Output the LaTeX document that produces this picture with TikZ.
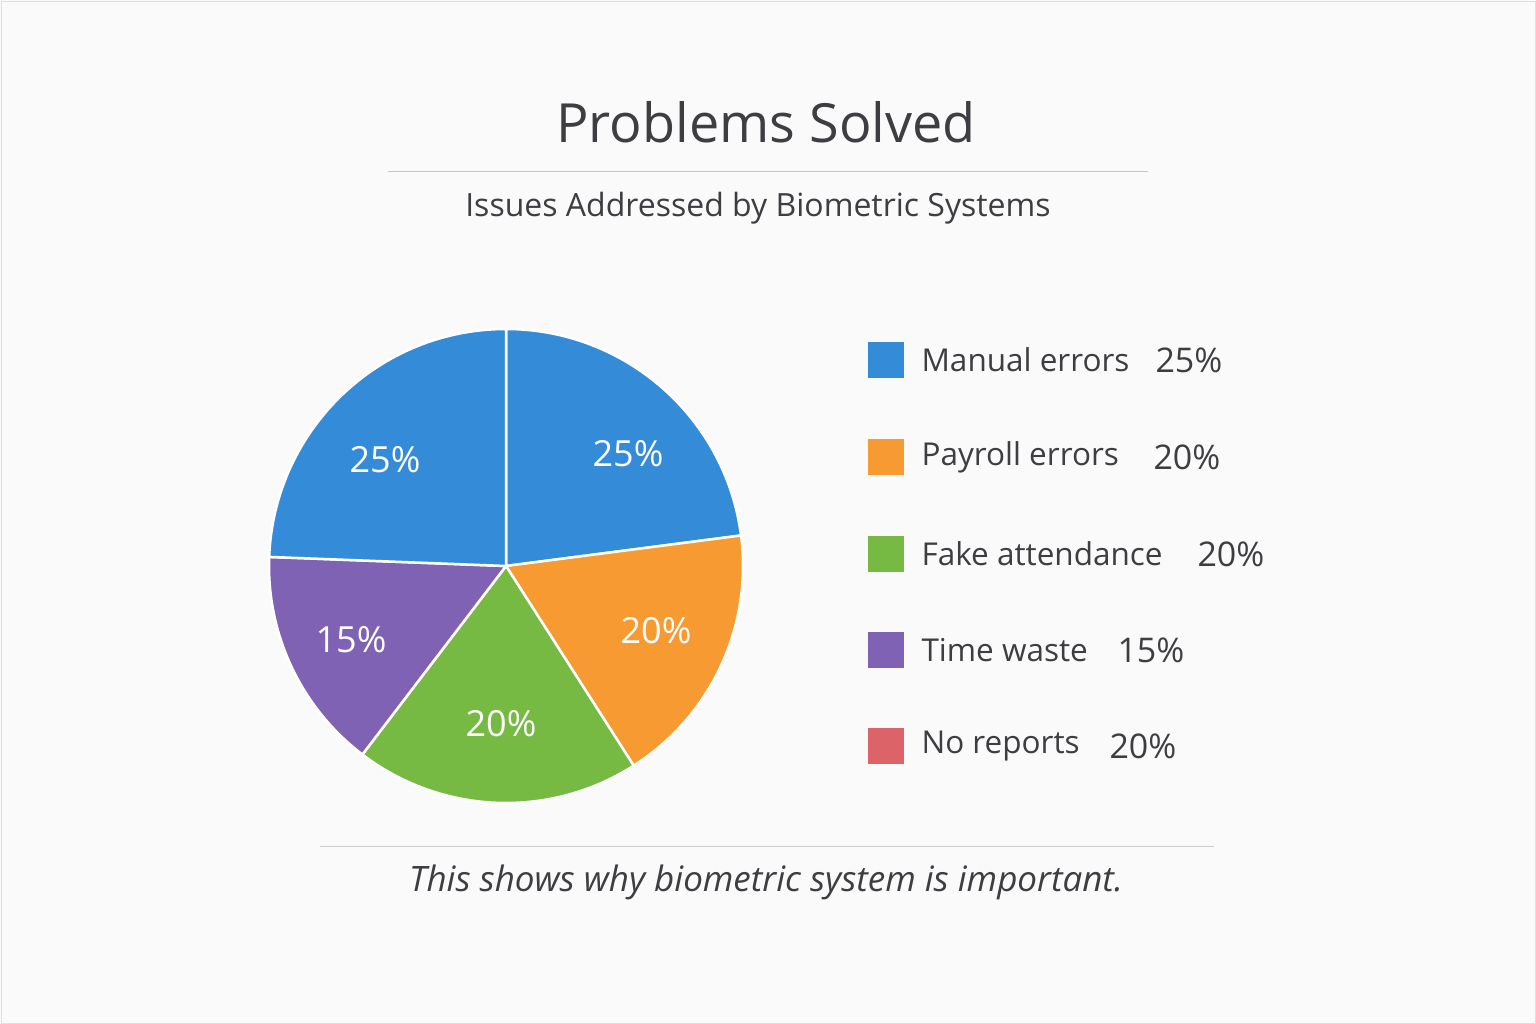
\documentclass[tikz,border=0pt]{standalone}
\usepackage{fontspec}
\setmainfont{Open Sans}
\definecolor{cblue}{HTML}{348CD9}
\definecolor{corange}{HTML}{F79A32}
\definecolor{cgreen}{HTML}{76B943}
\definecolor{cpurple}{HTML}{7F62B3}
\definecolor{cred}{HTML}{DC6469}
\definecolor{ctext}{HTML}{3E3E42}
\definecolor{cbg}{HTML}{FAFAFB}
\begin{document}
\begin{tikzpicture}[x=1pt,y=-1pt,
  slice/.style={draw=white,line width=2.5pt,line join=round},
  pct/.style={text=white,font=\fontsize{36}{42}\selectfont},
  leg/.style={anchor=west,text=ctext,font=\fontsize{31.5}{36}\selectfont},
  legp/.style={anchor=west,text=ctext,font=\fontsize{34}{40}\selectfont},
  box/.style={minimum size=36pt,inner sep=0pt}]
\useasboundingbox (0,0) rectangle (1536,1024);
\fill[cbg] (0,0) rectangle (1536,1024);
\draw[gray!25] (1,1) rectangle (1535,1023);
\node[text=ctext,font=\fontsize{54}{64}\selectfont] (title) at (766,122) {Problems Solved};
\draw[gray!45,line width=1pt] (388,172) -- (1148,172);
\node[text=ctext,font=\fontsize{32}{36}\selectfont] (sub) at (758,208) {Issues Addressed by Biometric Systems};
\coordinate (c) at (506,566);
\def\r{237}
\fill[cblue,slice] (c) -- ++(90:-\r) arc[start angle=-90,end angle=-7.4,radius=\r] -- cycle;
\fill[corange,slice] (c) -- ++(-7.4:\r) arc[start angle=-7.4,end angle=57.4,radius=\r] -- cycle;
\fill[cgreen,slice] (c) -- ++(57.4:\r) arc[start angle=57.4,end angle=127.3,radius=\r] -- cycle;
\fill[cpurple,slice] (c) -- ++(127.3:\r) arc[start angle=127.3,end angle=182.2,radius=\r] -- cycle;
\fill[cblue,slice] (c) -- ++(182.2:\r) arc[start angle=182.2,end angle=270,radius=\r] -- cycle;
\node[pct] (p1) at (628,454) {25\%};
\node[pct] (p2) at (385,460) {25\%};
\node[pct] (p3) at (656,631) {20\%};
\node[pct] (p4) at (501,724) {20\%};
\node[pct] (p5) at (351,640) {15\%};
\foreach \y/\col/\t/\p/\px [count=\i] in {360/cblue/Manual errors/25\%/1152,457/corange/Payroll errors/20\%/1150,554/cgreen/Fake attendance/20\%/1194,650/cpurple/Time waste/15\%/1114,746/cred/No reports/20\%/1106}{
  \node[box,fill=\col] (b\i) at (886,\y) {};
  \node[leg] (l\i) at (918,\y) {\t};
  \node[legp] (v\i) at (\px,\y) {\p};
}
\draw[gray!40,line width=1pt] (320,846) -- (1214,846);
\node[text=ctext,font=\fontsize{35}{40}\selectfont\itshape] (foot) at (766,882) {This shows why biometric system is important.};
\end{tikzpicture}
\end{document}
